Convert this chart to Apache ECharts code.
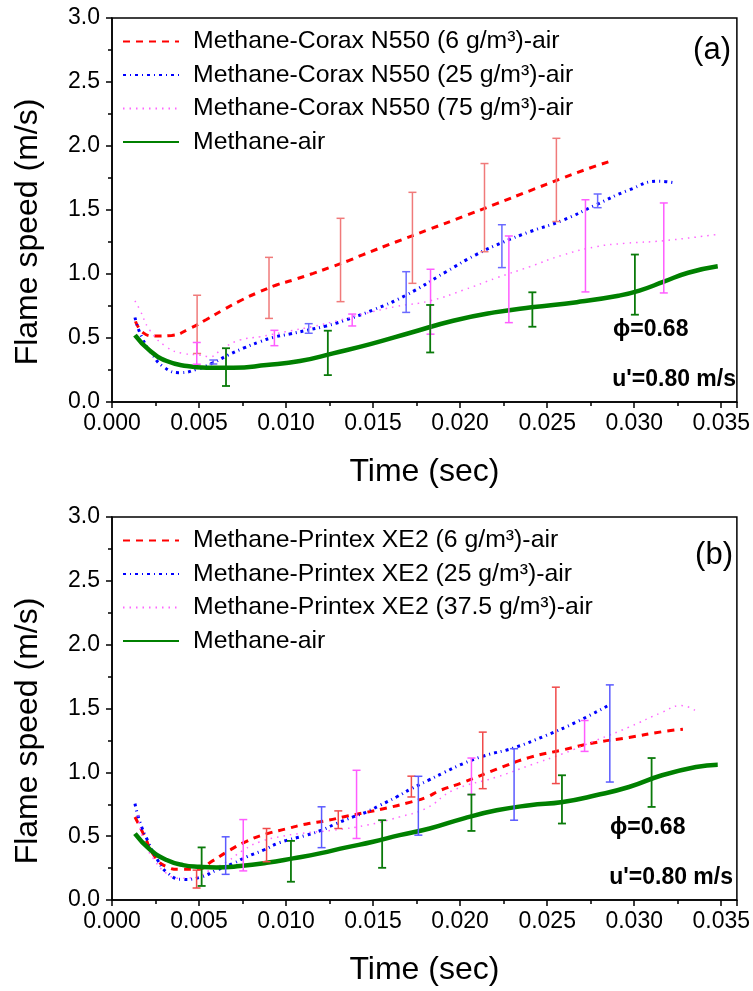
<!DOCTYPE html>
<html><head><meta charset="utf-8">
<script src="https://cdn.jsdelivr.net/npm/echarts@6/dist/echarts.min.js"></script>
<style>html,body{margin:0;padding:0;background:#fff}#c{width:753px;height:991px}</style>
</head><body><div id="c"></div>
<script>
// ---------- Panel (a): Methane-Corax N550 ----------
const namesA = ['Methane-Corax N550 (6 g/m³)-air', 'Methane-Corax N550 (25 g/m³)-air', 'Methane-Corax N550 (75 g/m³)-air', 'Methane-air'];
// time in ms, flame speed in m/s
const redA_t = [1.35,1.8,2.47,3.43,4.48,5.43,6.49,7.45,8.5,9.45,10.4,11.56,12.5,13.6,14.4,16.3,18.25,20.2,22.1,24.0,25.9,27.5,28.6];
const redA_v = [0.63,0.54,0.515,0.52,0.575,0.645,0.727,0.797,0.862,0.914,0.953,1.005,1.05,1.105,1.15,1.25,1.35,1.45,1.55,1.65,1.75,1.83,1.88];
const blueA_t = [1.32,1.7,2.28,2.95,3.9,4.86,5.82,6.68,7.54,8.5,9.26,10.2,11.27,12.3,13.3,15.0,16.9,19.2,20.9,22.5,24.0,25.9,27.8,29.7,31.4,32.4];
const blueA_v = [0.66,0.51,0.38,0.276,0.229,0.255,0.307,0.367,0.42,0.471,0.505,0.531,0.5625,0.594,0.635,0.719,0.835,1.018,1.15,1.25,1.33,1.42,1.54,1.656,1.725,1.71];
const magA_t = [1.32,1.6,2.18,3.14,4.08,5.05,5.63,6.37,7.35,8.5,10.0,11.55,13.1,14.5,16.3,18.25,20.2,22.1,24.0,25.9,27.8,29.5,31.7,34.8];
const magA_v = [0.79,0.72,0.56,0.43,0.38,0.367,0.354,0.42,0.484,0.51,0.55,0.59,0.64,0.69,0.745,0.79,0.875,0.97,1.057,1.148,1.213,1.24,1.26,1.31];
const greenA_t = [1.32,2.18,3.14,4.29,5.43,6.96,8.88,10.8,12.7,14.84,17.2,19.6,21.97,24.1,26.7,29.1,30.3,31.7,33.1,34.8];
const greenA_v = [0.523,0.40,0.32,0.281,0.268,0.268,0.289,0.32,0.38,0.452,0.543,0.635,0.70,0.74,0.78,0.83,0.87,0.94,1.01,1.06];
// error bars: time (ms), upper, lower
const redBarA_t = [4.89,9.02,13.13,17.26,21.4,25.53];
const redBarA_hi = [0.834,1.13,1.435,1.638,1.863,2.06];
const redBarA_lo = [0.379,0.653,0.784,0.927,1.174,1.41];
const blueBarA_t = [5.82,11.3,16.9,22.4,27.9];
const blueBarA_hi = [0.328,0.612,1.018,1.385,1.625];
const blueBarA_lo = [0.297,0.537,0.70,1.05,1.518];
const magBarA_t = [4.87,9.33,13.8,18.3,22.8,27.2,31.7];
const magBarA_hi = [0.465,0.56,0.687,1.037,1.297,1.58,1.555];
const magBarA_lo = [0.295,0.44,0.594,0.53,0.62,0.86,0.852];
const greenBarA_t = [6.55,12.4,18.28,24.15,30.04];
const greenBarA_hi = [0.42,0.557,0.758,0.857,1.152];
const greenBarA_lo = [0.125,0.21,0.387,0.588,0.682];

// ---------- Panel (b): Methane-Printex XE2 ----------
const namesB = ['Methane-Printex XE2 (6 g/m³)-air', 'Methane-Printex XE2 (25 g/m³)-air', 'Methane-Printex XE2 (37.5 g/m³)-air', 'Methane-air'];
const redB_t = [1.32,1.8,2.47,3.14,3.9,4.86,5.82,6.58,7.73,8.88,10.0,11.18,12.33,13.47,14.62,15.96,17.1,18.07,18.83,20.17,22.1,24.0,25.9,27.8,29.7,31.6,32.8];
const redB_v = [0.65,0.52,0.338,0.26,0.24,0.24,0.31,0.375,0.46,0.518,0.557,0.596,0.622,0.656,0.687,0.726,0.765,0.805,0.857,0.921,1.025,1.117,1.176,1.234,1.273,1.318,1.338];
const blueB_t = [1.32,1.6,2.08,2.56,3.23,4.09,5.05,6.0,6.96,7.73,8.69,9.64,11.18,12.04,12.9,13.85,14.62,15.4,16.34,17.2,18.16,19.1,20.17,21.4,23.04,24.95,26.67,28.5];
const blueB_v = [0.755,0.612,0.456,0.326,0.208,0.161,0.177,0.234,0.286,0.338,0.39,0.45,0.508,0.547,0.599,0.651,0.69,0.742,0.807,0.872,0.937,1.0,1.068,1.13,1.19,1.29,1.393,1.523];
const magB_t = [1.5,1.8,2.37,3.14,3.9,4.86,5.63,6.58,7.54,8.5,9.64,10.8,12.7,14.62,16.53,18.07,19.6,22.1,24.0,25.9,27.8,29.7,31.6,32.7,33.56];
const magB_v = [0.664,0.469,0.326,0.208,0.17,0.182,0.234,0.299,0.39,0.456,0.495,0.521,0.547,0.586,0.651,0.72,0.859,0.963,1.055,1.146,1.25,1.354,1.47,1.523,1.478];
const greenB_t = [1.32,2.18,3.14,4.09,5.05,6.0,7.35,8.88,10.4,11.94,13.47,15.0,16.53,18.25,20.17,22.1,24.0,25.9,27.8,29.7,31.6,33.56,34.8];
const greenB_v = [0.52,0.396,0.313,0.273,0.26,0.255,0.266,0.291,0.326,0.365,0.412,0.456,0.508,0.56,0.638,0.703,0.742,0.768,0.82,0.885,0.977,1.042,1.06];
const redBarB_t = [4.86,8.88,13.0,17.2,21.3,25.5];
const redBarB_hi = [0.234,0.56,0.698,0.97,1.315,1.667];
const redBarB_lo = [0.094,0.30,0.56,0.807,0.872,0.912];
const blueBarB_t = [6.53,12.04,17.6,23.1,28.6];
const blueBarB_hi = [0.495,0.73,0.969,1.185,1.685];
const blueBarB_lo = [0.201,0.41,0.508,0.625,0.924];
const magBarB_t = [7.54,14.05,20.65,27.15];
const magBarB_hi = [0.63,1.016,1.112,1.406];
const magBarB_lo = [0.228,0.482,0.826,1.164];
const greenBarB_t = [5.15,10.28,15.52,20.65,25.85,31.0];
const greenBarB_hi = [0.412,0.463,0.625,0.826,0.977,1.112];
const greenBarB_lo = [0.11,0.143,0.252,0.541,0.599,0.729];

const yTicks = [0, 0.5, 1.0, 1.5, 2.0, 2.5, 3.0];

const FONT = '"Liberation Sans", Arial, Helvetica, sans-serif';
const RED = '#ff0000', BLUE = '#0000ff', MAG = '#ff66ff', GREEN = '#008000';

function pts(t, v) { return t.map((x, i) => [x / 1000, v[i]]); }
function barPts(t, hi, lo) { return t.map((x, i) => [x / 1000, lo[i], hi[i]]); }

function lineSeries(name, idx, data, color, width, dash) {
  return {
    type: 'line', name, xAxisIndex: idx, yAxisIndex: idx, data,
    symbol: 'none', showSymbol: false, smooth: 0.5, z: 3,
    lineStyle: { color, width, type: dash || 'solid', cap: 'butt' },
    itemStyle: { color }, emphasis: { disabled: true }, silent: true
  };
}
function errSeries(idx, data, color, width) {
  return {
    type: 'custom', xAxisIndex: idx, yAxisIndex: idx, data, z: 4, silent: true,
    encode: { x: 0, y: [1, 2] },
    renderItem(params, api) {
      const x = api.value(0), lo = api.value(1), hi = api.value(2);
      const p1 = api.coord([x, hi]), p2 = api.coord([x, lo]);
      const w = 4;
      const st = { stroke: color, lineWidth: width || 1.5, fill: null };
      return { type: 'group', children: [
        { type: 'line', shape: { x1: p1[0], y1: p1[1], x2: p2[0], y2: p2[1] }, style: st },
        { type: 'line', shape: { x1: p1[0] - w, y1: p1[1], x2: p1[0] + w, y2: p1[1] }, style: st },
        { type: 'line', shape: { x1: p2[0] - w, y1: p2[1], x2: p2[0] + w, y2: p2[1] }, style: st }
      ]};
    }
  };
}
function xAx(idx) {
  return {
    type: 'value', gridIndex: idx, min: 0, max: 0.0359, interval: 0.005,
    name: 'Time (sec)', nameLocation: 'middle', nameGap: 54,
    nameTextStyle: { fontFamily: FONT, fontSize: 32, color: '#000' },
    axisLine: { show: true, onZero: false, lineStyle: { color: '#000', width: 1.5 } },
    axisTick: { show: true, inside: false, length: 6, lineStyle: { color: '#000', width: 1.5 } },
    minorTick: { show: true, splitNumber: 2, length: 4, lineStyle: { color: '#000', width: 1.5 } },
    axisLabel: { fontFamily: FONT, fontSize: 23, color: '#000', margin: 10, showMaxLabel: false,
      formatter: v => v.toFixed(3) },
    splitLine: { show: false }
  };
}
function yAx(idx) {
  return {
    type: 'value', gridIndex: idx, min: yTicks[0], max: yTicks[yTicks.length - 1], interval: 0.5,
    axisLine: { show: true, onZero: false, lineStyle: { color: '#000', width: 1.5 } },
    axisTick: { show: true, inside: false, length: 6, lineStyle: { color: '#000', width: 1.5 } },
    minorTick: { show: true, splitNumber: 2, length: 4, lineStyle: { color: '#000', width: 1.5 } },
    axisLabel: { fontFamily: FONT, fontSize: 23, color: '#000', margin: 12, formatter: v => v.toFixed(1) },
    splitLine: { show: false }
  };
}
function legendFor(names, top) {
  return {
    data: names, top, left: 117, orient: 'vertical', itemWidth: 56, itemHeight: 14, itemGap: 8.5,
    selectedMode: false,
    itemStyle: { color: 'rgba(0,0,0,0)', borderColor: 'rgba(0,0,0,0)', borderWidth: 0, opacity: 0 },
    textStyle: { fontFamily: FONT, fontSize: 24.8, color: '#000', padding: [0, 0, 0, 9], lineHeight: 25 }
  };
}
function txt(x, y, text, size, weight, align, rot) {
  return { type: 'text', x, y, rotation: rot || 0, silent: true,
    style: { text, fontFamily: FONT, fontSize: size, fontWeight: weight || 'normal', fill: '#000',
      align: align || 'left', verticalAlign: 'middle' } };
}

const chart = echarts.init(document.getElementById('c'), null, { renderer: 'canvas' });
chart.setOption({
  animation: false,
  backgroundColor: '#fff',
  grid: [
    { left: 112, top: 18, width: 626, height: 384, show: true, borderColor: '#000', borderWidth: 1.5, containLabel: false },
    { left: 112, top: 517, width: 626, height: 383, show: true, borderColor: '#000', borderWidth: 1.5, containLabel: false }
  ],
  xAxis: [xAx(0), xAx(1)],
  yAxis: [yAx(0), yAx(1)],
  legend: [legendFor(namesA, 24), legendFor(namesB, 523)],
  graphic: [
    txt(28, 232, 'Flame speed (m/s)', 32, 'normal', 'center', Math.PI / 2),
    txt(28, 731, 'Flame speed (m/s)', 32, 'normal', 'center', Math.PI / 2),
    txt(731, 50, '(a)', 31, 'normal', 'right'),
    txt(733, 555, '(b)', 31, 'normal', 'right'),
    txt(613, 330, 'ϕ=0.68', 23, 'bold', 'left'),
    txt(736, 380, "u'=0.80 m/s", 23, 'bold', 'right'),
    txt(610, 828, 'ϕ=0.68', 23, 'bold', 'left'),
    txt(733, 878, "u'=0.80 m/s", 23, 'bold', 'right')
  ],
  series: [
    lineSeries(namesA[0], 0, pts(redA_t, redA_v), RED, 3, [7, 6]),
    lineSeries(namesA[1], 0, pts(blueA_t, blueA_v), BLUE, 3, [3, 4, 1, 4]),
    lineSeries(namesA[2], 0, pts(magA_t, magA_v), MAG, 1.5, [1.5, 5]),
    lineSeries(namesA[3], 0, pts(greenA_t, greenA_v), GREEN, 4.5),
    errSeries(0, barPts(redBarA_t, redBarA_hi, redBarA_lo), '#f07a7a'),
    errSeries(0, barPts(blueBarA_t, blueBarA_hi, blueBarA_lo), '#6a6aff'),
    errSeries(0, barPts(magBarA_t, magBarA_hi, magBarA_lo), '#ff5cff'),
    errSeries(0, barPts(greenBarA_t, greenBarA_hi, greenBarA_lo), '#0a7a0a', 1.8),
    lineSeries(namesB[0], 1, pts(redB_t, redB_v), RED, 3, [7, 6]),
    lineSeries(namesB[1], 1, pts(blueB_t, blueB_v), BLUE, 3, [3, 4, 1, 4]),
    lineSeries(namesB[2], 1, pts(magB_t, magB_v), MAG, 1.5, [1.5, 5]),
    lineSeries(namesB[3], 1, pts(greenB_t, greenB_v), GREEN, 4.5),
    errSeries(1, barPts(redBarB_t, redBarB_hi, redBarB_lo), '#f04a4a'),
    errSeries(1, barPts(blueBarB_t, blueBarB_hi, blueBarB_lo), '#5a5aff'),
    errSeries(1, barPts(magBarB_t, magBarB_hi, magBarB_lo), '#ff5cff'),
    errSeries(1, barPts(greenBarB_t, greenBarB_hi, greenBarB_lo), '#0a7a0a', 1.8)
  ]
});
</script>
</body></html>
